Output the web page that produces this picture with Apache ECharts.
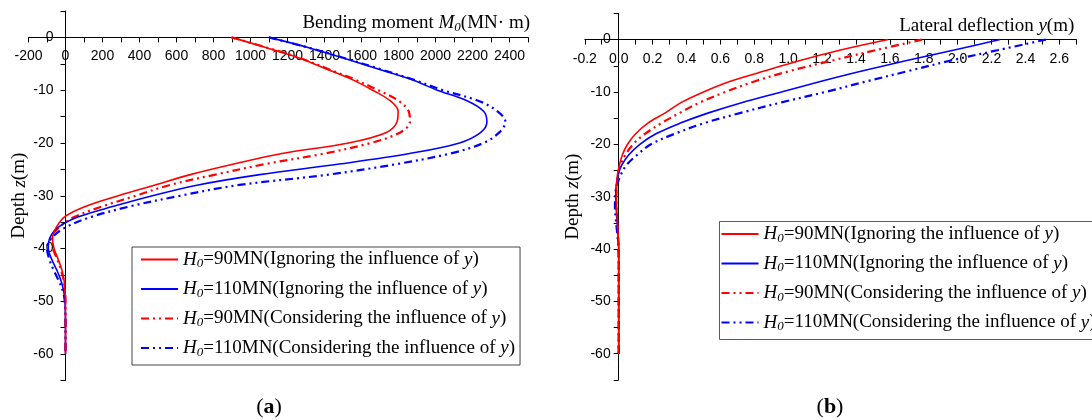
<!DOCTYPE html>
<html><head><meta charset="utf-8">
<script src="https://cdn.jsdelivr.net/npm/echarts@6/dist/echarts.min.js"></script>
<style>html,body{margin:0;padding:0;background:#fff}#c{width:1092px;height:420px}</style>
</head><body><div id="c"></div>
<script>
// depth below ground (m); plotted as z = -depth
const depths = [0, 2, 4, 6, 8, 10, 12, 14, 16, 18, 20, 22, 24, 26, 28, 30, 32, 34, 36, 38, 40, 42, 44, 46, 48, 50, 55, 60];

// (a) bending moment M0 (MN·m)
const momentH90Ignore   = [898, 1090, 1270, 1410, 1550, 1660, 1755, 1798, 1792, 1735, 1530, 1170, 910, 675, 480, 285, 110, -5, -50, -70, -62, -40, -20, -8, -3, 0, 0, 0];
const momentH110Ignore  = [1100, 1320, 1510, 1690, 1870, 2010, 2170, 2260, 2278, 2245, 2130, 1860, 1480, 1050, 710, 470, 260, 70, -40, -85, -93, -75, -48, -25, -10, -3, 0, 0];
const momentH90Consider = [898, 1095, 1275, 1420, 1565, 1690, 1800, 1855, 1862, 1810, 1650, 1400, 1080, 810, 560, 380, 200, 50, -35, -75, -68, -45, -25, -10, -3, 0, 0, 0];
const momentH110Consider= [1100, 1320, 1515, 1700, 1880, 2040, 2230, 2335, 2378, 2345, 2260, 2080, 1790, 1420, 930, 620, 350, 140, 0, -75, -100, -88, -65, -38, -15, -4, 0, 0];

// (b) lateral deflection y (m)
const deflH90Ignore   = [1.59, 1.31, 1.07, 0.86, 0.655, 0.50, 0.37, 0.275, 0.17, 0.10, 0.052, 0.022, 0.004, -0.008, -0.012, -0.013, -0.012, -0.009, -0.005, -0.002, 0, 0, 0, 0, 0, 0, 0, 0];
const deflH110Ignore  = [2.25, 1.98, 1.70, 1.435, 1.19, 0.96, 0.73, 0.53, 0.36, 0.22, 0.125, 0.06, 0.018, -0.005, -0.015, -0.017, -0.015, -0.011, -0.007, -0.003, 0, 0, 0, 0, 0, 0, 0, 0];
const deflH90Consider = [1.79, 1.52, 1.26, 1.01, 0.80, 0.63, 0.48, 0.36, 0.25, 0.155, 0.085, 0.04, 0.01, -0.005, -0.012, -0.014, -0.013, -0.010, -0.006, -0.003, 0, 0, 0, 0, 0, 0, 0, 0];
const deflH110Consider= [2.52, 2.24, 1.96, 1.71, 1.46, 1.22, 0.96, 0.72, 0.50, 0.33, 0.19, 0.11, 0.045, 0.01, -0.012, -0.022, -0.022, -0.018, -0.012, -0.006, -0.002, 0, 0, 0, 0, 0, 0, 0];

const seriesNames = [
  'H0=90MN(Ignoring the influence of y)',
  'H0=110MN(Ignoring the influence of y)',
  'H0=90MN(Considering the influence of y)',
  'H0=110MN(Considering the influence of y)'
];
const legendRich = [
  '{i|H}{s|0}{t|=90MN(Ignoring the influence of }{i|y}{t|)}',
  '{i|H}{s|0}{t|=110MN(Ignoring the influence of }{i|y}{t|)}',
  '{i|H}{s|0}{t|=90MN(Considering the influence of }{i|y}{t|)}',
  '{i|H}{s|0}{t|=110MN(Considering the influence of }{i|y}{t|)}'
];
const xTicksA = {min: -200, max: 2500, interval: 100};
const xTicksB = {min: -0.2, max: 2.7, interval: 0.1};
const yTicks = {min: -65, max: 5, interval: 5};

const SERIF = 'Liberation Serif';
const SANS = 'Liberation Sans';
const RED = '#ff0000', BLUE = '#0000ff';
const dashDot = [8, 4, 2, 4, 2, 4];
const styles = [
  {color: RED, type: 'solid', width: 1.6},
  {color: BLUE, type: 'solid', width: 1.6},
  {color: RED, type: dashDot, width: 2.2},
  {color: BLUE, type: dashDot, width: 2.2}
];
const momentSets = [momentH90Ignore, momentH110Ignore, momentH90Consider, momentH110Consider];
const deflSets = [deflH90Ignore, deflH110Ignore, deflH90Consider, deflH110Consider];

const richText = {
  t: {fontFamily: SERIF, fontSize: 19, color: '#000', lineHeight: 22},
  i: {fontFamily: SERIF, fontSize: 19, fontStyle: 'italic', color: '#000', lineHeight: 22},
  s: {fontFamily: SERIF, fontSize: 13, fontStyle: 'italic', color: '#000', lineHeight: 10, verticalAlign: 'bottom'}
};

const grids = [
  {left: 28.5, top: 11, width: 499.5, height: 369.5},
  {left: 584.8, top: 13.4, width: 491.5, height: 366.5}
];

function makeSeries(sets, idx) {
  return sets.map((arr, k) => ({
    name: seriesNames[k],
    type: 'line',
    xAxisIndex: idx, yAxisIndex: idx,
    data: depths.map((d, j) => [arr[j], -d]),
    symbol: 'none',
    smooth: 0.35,
    lineStyle: styles[k],
    itemStyle: {color: styles[k].color},
    z: 10 - k
  }));
}

function xAxisCfg(gi, ticks, margin, fmt, nameRich, nameGap) {
  const g = grids[gi];
  // move the axis line from the grid top down to depth 0
  const off = -g.height * yTicks.max / (yTicks.max - yTicks.min);
  return {
    type: 'value', gridIndex: gi, min: ticks.min, max: ticks.max, interval: ticks.interval,
    position: 'top', offset: off,
    axisLine: {onZero: false, lineStyle: {color: '#000', width: 1}},
    axisTick: {show: true, inside: true, length: 5, lineStyle: {color: '#000'}},
    axisLabel: {inside: true, margin, color: '#000', fontFamily: SANS, fontSize: 14, formatter: fmt, showMinLabel: true, showMaxLabel: true},
    splitLine: {show: false},
    name: nameRich, nameLocation: 'end', nameGap,
    nameTextStyle: {align: 'right', verticalAlign: 'bottom', padding: [0, 0, 3, 0], rich: richText}
  };
}
function yAxisCfg(gi, ticks, margin, nameGap) {
  const g = grids[gi];
  // move the axis line from the grid left edge right to x = 0
  const off = -g.width * (0 - ticks.min) / (ticks.max - ticks.min);
  return {
    type: 'value', gridIndex: gi, min: yTicks.min, max: yTicks.max, interval: yTicks.interval,
    position: 'left', offset: off,
    axisLine: {onZero: false, lineStyle: {color: '#000', width: 1}},
    axisTick: {show: true, inside: false, length: 5, lineStyle: {color: '#000'}},
    axisLabel: {margin, color: '#000', fontFamily: SANS, fontSize: 14,
      formatter: v => (Math.round(v) % 10 === 0 && v <= 0) ? String(Math.round(v)) : ''},
    splitLine: {show: false},
    name: '{t|Depth }{i|z}{t|(m)}', nameLocation: 'middle', nameRotate: 90, nameGap,
    nameTextStyle: {rich: richText}
  };
}

function legendCfg(left, top, padding, borderColor) {
  return {
    orient: 'vertical', left, top,
    data: seriesNames, itemWidth: 37, itemHeight: 14, itemGap: 9,
    padding, borderColor, borderWidth: 1, backgroundColor: '#fff',
    itemStyle: {opacity: 0},
    formatter: name => legendRich[seriesNames.indexOf(name)],
    textStyle: {rich: richText}, selectedMode: false
  };
}

const chart = echarts.init(document.getElementById('c'), null, {renderer: 'canvas'});
chart.setOption({
  backgroundColor: '#fff',
  animation: false,
  grid: grids.map(g => Object.assign({outerBoundsMode: 'none', containLabel: false}, g)),
  xAxis: [
    xAxisCfg(0, xTicksA, 12, v => (Math.round(v) % 200 === 0 && v < 2500) ? String(Math.round(v)) : '',
      '{t|Bending moment }{i|M}{s|0}{t|(MN· m)}', 2),
    xAxisCfg(1, xTicksB, 13, v => { const r = Math.round(v * 10); return (r % 2 === 0 && r < 27) ? (r / 10).toFixed(1) : ''; },
      '{t|Lateral deflection }{i|y}{t|(m)}', -2)
  ],
  yAxis: [yAxisCfg(0, xTicksA, 12, 35), yAxisCfg(1, xTicksB, 8, 35)],
  legend: [
    legendCfg(132, 247, [3, 5, 6, 8], '#444'),
    legendCfg(719.5, 221.5, [3, 8, 6, 1], '#4b4bd2')
  ],
  graphic: [
    {type: 'text', x: 269, y: 407, style: {text: '{p|(}{b|a}{p|)}', align: 'center', verticalAlign: 'middle',
      rich: {p: {fontFamily: SERIF, fontSize: 22, fill: '#000'}, b: {fontFamily: SERIF, fontSize: 22, fontWeight: 'bold', fill: '#000'}}}},
    {type: 'text', x: 830, y: 407, style: {text: '{p|(}{b|b}{p|)}', align: 'center', verticalAlign: 'middle',
      rich: {p: {fontFamily: SERIF, fontSize: 22, fill: '#000'}, b: {fontFamily: SERIF, fontSize: 22, fontWeight: 'bold', fill: '#000'}}}}
  ],
  series: [...makeSeries(momentSets, 0), ...makeSeries(deflSets, 1)]
});
</script></body></html>
